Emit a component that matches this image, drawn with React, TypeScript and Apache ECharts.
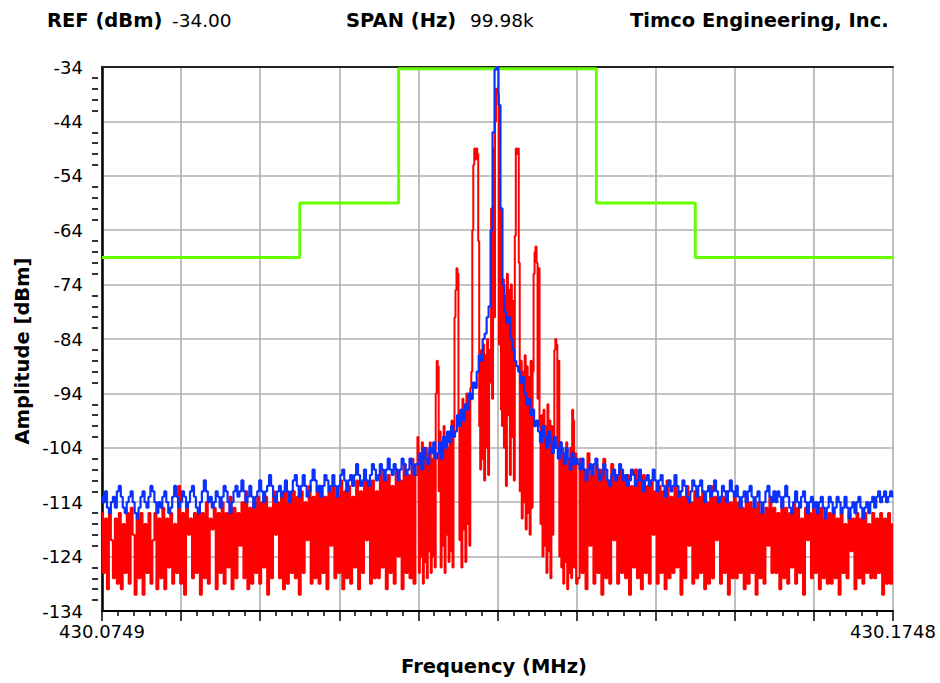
import React, { useEffect, useRef } from "react";
import * as echarts from "echarts";

// Reference level of the display (dBm) – the y axis is drawn relative to it
const REF_LEVEL = -34;

// Tick labels
const xTickLabels = ["430.0749", "", "", "", "", "", "", "", "", "", "430.1748"];
const yTickLabels = ["-134", "-124", "-114", "-104", "-94", "-84", "-74", "-64", "-54", "-44", "-34"];

// Limit mask (frequency offset from centre in kHz, level in dBm)
const maskFreq = [-50, -25, -25, -12.5, -12.5, 12.5, 12.5, 25, 25, 50];
const maskLevel = [-69, -69, -59, -59, -34.3, -34.3, -59, -59, -69, -69];

// Red trace (dBm) – left skirt, -50 … -10.25 kHz, 0.25 kHz steps
const redLeftStart = -50;
const redLeftStep = 0.25;
const redLeft = [
  -116, -127, -117, -130, -116, -121, -128, -117, -129, -116,
  -130, -118, -127, -116, -129, -115, -120, -131, -117, -128,
  -116, -131, -118, -127, -116, -129, -121, -116, -130, -117,
  -128, -115, -130, -117, -126, -116, -129, -118, -127, -111,
  -129, -116, -131, -115, -120, -117, -128, -116, -127, -115,
  -131, -116, -128, -114, -129, -117, -119, -115, -130, -116,
  -127, -114, -129, -116, -126, -113, -130, -115, -128, -116,
  -122, -114, -128, -112, -130, -115, -129, -114, -127, -113,
  -129, -114, -126, -113, -131, -115, -128, -112, -120, -114,
  -128, -113, -130, -111, -129, -114, -127, -112, -128, -113,
  -131, -112, -127, -114, -121, -111, -129, -113, -128, -112,
  -129, -111, -127, -113, -130, -112, -122, -111, -128, -113,
  -127, -110, -130, -112, -128, -111, -129, -113, -126, -110,
  -130, -112, -127, -109, -121, -111, -129, -110, -128, -112,
  -128, -108, -126, -110, -130, -109, -127, -111, -129, -108,
  -124, -110, -130, -107, -127, -109, -128, -106, -129, -109,
];

// Red trace – centre, -10 … +10 kHz, 0.125 kHz steps
const redCenterStart = -10;
const redCenterStep = 0.125;
const redCenter = [
  -102, -127, -105, -124, -103, -129, -106, -125, -104, -128,
  -105, -123, -103, -127, -106, -124, -104, -126,
  -94, -88, -89, -112,
  -101, -126, -103, -122, -100, -127, -102, -120, -104, -125, -101, -123, -99, -126, -102,
  -80, -75, -71, -72, -98,
  -121, -97, -126, -95, -119, -98, -125, -94, -118, -96, -122, -93,
  -90, -64, -52, -49, -51, -49, -50, -66, -100,
  -108, -86, -106, -85, -110, -87, -104, -84, -109, -86,
  -92, -60, -95, -49, -80, -44, -38, -38.5, -39, -85, -60, -97,
  -100, -73, -104, -76, -111, -72, -98, -75, -109, -74, -102, -77, -110,
  -65, -49, -50, -49, -70,
  -112, -88, -117, -90, -114, -87, -119, -89, -116, -91, -120, -88, -115,
  -90, -72, -68, -67, -70, -95, -71, -100, -118,
  -98, -124, -97, -122, -100, -127, -96, -123, -99, -128,
  -100, -120, -102, -86, -84, -85, -104, -88, -124, -103,
  -126, -104, -129, -105, -125, -103, -130, -106, -127, -104, -128, -97, -99, -126, -105, -129,
];

// Red trace – right skirt, +10.25 … +50 kHz, 0.25 kHz steps
const redRightStart = 10.25;
const redRightStep = 0.25;
const redRight = [
  -128, -106, -127, -108, -130, -105, -122, -109, -129, -107,
  -127, -108, -131, -106, -128, -110, -129, -107, -121, -109,
  -129, -108, -127, -110, -128, -109, -131, -111, -126, -108,
  -128, -110, -130, -109, -127, -111, -129, -110, -120, -112,
  -129, -111, -127, -112, -130, -110, -128, -113, -127, -111,
  -126, -112, -131, -113, -128, -111, -122, -114, -129, -112,
  -128, -113, -127, -112, -130, -114, -129, -111, -128, -113,
  -121, -114, -129, -113, -127, -112, -131, -114, -128, -113,
  -128, -114, -127, -115, -130, -113, -129, -114, -127, -115,
  -131, -114, -128, -116, -129, -115, -122, -113, -127, -115,
  -127, -116, -130, -114, -128, -115, -129, -116, -126, -114,
  -129, -115, -127, -117, -131, -115, -121, -116, -128, -115,
  -127, -116, -130, -115, -128, -117, -129, -116, -129, -116,
  -128, -117, -131, -116, -127, -118, -128, -116, -123, -117,
  -130, -116, -128, -117, -129, -116, -127, -118, -128, -116,
  -128, -117, -127, -116, -131, -117, -129, -116, -129, -118,
];

// Blue trace (dBm) – left, -50 … -10.25 kHz, 0.25 kHz steps
const blueLeftStart = -50;
const blueLeftStep = 0.25;
const blueLeft = [
  -113, -114, -112, -115, -116, -114, -113, -115, -112, -111,
  -113, -115, -116, -114, -113, -112, -114, -116, -117, -115,
  -113, -112, -114, -115, -113, -111, -112, -114, -116, -114,
  -115, -113, -112, -114, -116, -115, -113, -111, -113, -115,
  -114, -112, -113, -115, -114, -112, -111, -113, -115, -116,
  -114, -112, -110, -112, -114, -113, -115, -114, -112, -113,
  -115, -113, -111, -112, -114, -116, -114, -112, -111, -113,
  -112, -110, -112, -114, -113, -111, -113, -115, -113, -112,
  -110, -112, -114, -112, -111, -109, -111, -113, -114, -112,
  -111, -113, -112, -110, -112, -114, -112, -110, -109, -111,
  -113, -111, -109, -111, -113, -112, -110, -108, -110, -112,
  -111, -113, -111, -109, -110, -112, -111, -109, -111, -113,
  -111, -109, -108, -110, -112, -110, -109, -111, -109, -107,
  -109, -111, -110, -108, -110, -111, -109, -107, -108, -110,
  -109, -107, -108, -110, -108, -106, -108, -109, -107, -108,
  -110, -108, -106, -107, -109, -108, -106, -107, -109, -107,
];

// Blue trace – centre, -10 … +10 kHz, 0.25 kHz steps
const blueCenterStart = -10;
const blueCenterStep = 0.25;
const blueCenter = [
  -107, -105, -108, -104, -106, -107, -104, -105, -103, -106,
  -105, -103, -106, -102, -104, -101, -103, -100, -102, -101,
  -98, -100, -97, -99, -96, -97, -94, -95, -92, -93,
  -90, -87, -88, -84, -83, -80, -78, -64, -46, -34.5,
  -34, -41, -60, -74, -79, -81, -80, -84, -86, -88,
  -89, -90, -92, -91, -94, -96, -95, -98, -97, -100,
  -99, -101, -103, -100, -102, -104, -101, -103, -105, -102,
  -104, -106, -103, -105, -107, -104, -106, -108, -105, -107, -106,
];

// Blue trace – right, +10.25 … +50 kHz, 0.25 kHz steps
const blueRightStart = 10.25;
const blueRightStep = 0.25;
const blueRight = [
  -107, -108, -106, -108, -110, -108, -107, -109, -107, -106,
  -108, -110, -109, -107, -108, -110, -111, -109, -108, -110,
  -109, -107, -108, -110, -109, -111, -110, -108, -109, -111,
  -110, -108, -110, -112, -110, -109, -111, -110, -108, -110,
  -112, -110, -109, -111, -113, -111, -110, -112, -111, -109,
  -111, -113, -112, -110, -111, -113, -114, -112, -110, -111,
  -113, -111, -110, -112, -114, -112, -111, -113, -112, -110,
  -112, -114, -113, -111, -112, -114, -112, -110, -112, -113,
  -111, -113, -115, -113, -112, -114, -112, -111, -113, -115,
  -113, -112, -114, -116, -114, -112, -111, -113, -114, -112,
  -114, -112, -113, -115, -113, -111, -113, -115, -116, -114,
  -112, -114, -115, -113, -112, -114, -116, -114, -113, -115,
  -114, -116, -114, -113, -115, -117, -115, -113, -114, -116,
  -115, -113, -114, -116, -115, -113, -115, -117, -115, -114,
  -116, -114, -113, -115, -117, -115, -114, -116, -114, -113,
  -115, -113, -112, -114, -113, -112, -114, -113, -112, -113,
];

const toPoints = (start: number, step: number, values: number[]) =>
  values.map((v, i) => [start + step * i, v - REF_LEVEL]);

const FONT = '"DejaVu Sans", Verdana, sans-serif';

export default function App() {
  const ref = useRef<HTMLDivElement>(null);

  useEffect(() => {
    if (!ref.current) return;
    const chart = echarts.init(ref.current, null, { renderer: "svg" });

    const redData = [
      ...toPoints(redLeftStart, redLeftStep, redLeft),
      ...toPoints(redCenterStart, redCenterStep, redCenter),
      ...toPoints(redRightStart, redRightStep, redRight),
    ];
    const blueData = [
      ...toPoints(blueLeftStart, blueLeftStep, blueLeft),
      ...toPoints(blueCenterStart, blueCenterStep, blueCenter),
      ...toPoints(blueRightStart, blueRightStep, blueRight),
    ];
    const maskData = maskFreq.map((f, i) => [f, maskLevel[i] - REF_LEVEL]);

    const gridColor = "#b0b0b0";

    chart.setOption({
      animation: false,
      backgroundColor: "#ffffff",
      grid: { left: 102, right: 47, top: 67, bottom: 72, containLabel: false },
      xAxis: [
        {
          type: "value",
          position: "bottom",
          min: -50,
          max: 50,
          interval: 10,
          axisLine: { show: true, onZero: false, lineStyle: { color: "#000", width: 2 } },
          axisTick: { show: true, length: 10, lineStyle: { color: "#000", width: 1.5 } },
          minorTick: { show: true, splitNumber: 5, length: 5, lineStyle: { color: "#000", width: 1.5 } },
          splitLine: { show: true, lineStyle: { color: gridColor, width: 1.6 } },
          axisLabel: {
            show: true,
            margin: 11,
            fontFamily: FONT,
            fontSize: 18,
            color: "#000",
            showMinLabel: true,
            showMaxLabel: true,
            hideOverlap: false,
            formatter: (v: number) => xTickLabels[Math.round((v + 50) / 10)] ?? "",
          },
        },
        {
          type: "value",
          position: "top",
          min: -50,
          max: 50,
          interval: 10,
          axisLine: { show: true, onZero: false, lineStyle: { color: "#222", width: 2 } },
          axisTick: { show: false },
          axisLabel: { show: false },
          splitLine: { show: false },
        },
      ],
      yAxis: [
        {
          type: "value",
          position: "left",
          min: -100,
          max: 0,
          interval: 10,
          axisLine: { show: true, onZero: false, lineStyle: { color: "#000", width: 2.5 } },
          axisTick: { show: false },
          splitLine: { show: true, lineStyle: { color: gridColor, width: 1.6 } },
          axisLabel: {
            show: true,
            margin: 19,
            padding: [5, 0, 0, 0],
            fontFamily: FONT,
            fontSize: 18,
            color: "#000",
            formatter: (v: number) => yTickLabels[Math.round((v + 100) / 10)] ?? "",
          },
        },
        {
          type: "value",
          position: "left",
          offset: 4,
          min: -100,
          max: 0,
          interval: 10,
          axisLine: { show: false, onZero: false },
          axisTick: { show: false },
          minorTick: { show: true, splitNumber: 5, length: 6, lineStyle: { color: "#000", width: 1.6 } },
          splitLine: { show: false },
          axisLabel: { show: false },
        },
      ],
      series: [
        {
          name: "Mask",
          type: "line",
          data: maskData,
          symbol: "none",
          silent: true,
          lineStyle: { color: "#66ff00", width: 3 },
          z: 3,
        },
        {
          name: "Trace A",
          type: "line",
          step: "middle",
          data: redData,
          symbol: "none",
          silent: true,
          lineStyle: { color: "#ff0000", width: 2 },
          z: 4,
        },
        {
          name: "Trace B",
          type: "line",
          step: "middle",
          data: blueData,
          symbol: "none",
          silent: true,
          lineStyle: { color: "#0a32ff", width: 2.2 },
          z: 5,
        },
      ],
      graphic: [
        {
          type: "text",
          x: 47,
          y: 20,
          style: {
            text: "REF (dBm)",
            fontFamily: FONT,
            fontWeight: "bold",
            fontSize: 19.5,
            fill: "#000",
            align: "left",
            verticalAlign: "middle",
          },
        },
        {
          type: "text",
          x: 172,
          y: 20,
          style: {
            text: "-34.00",
            fontFamily: FONT,
            fontSize: 18.5,
            fill: "#000",
            align: "left",
            verticalAlign: "middle",
          },
        },
        {
          type: "text",
          x: 346,
          y: 20,
          style: {
            text: "SPAN (Hz)",
            fontFamily: FONT,
            fontWeight: "bold",
            fontSize: 19.5,
            fill: "#000",
            align: "left",
            verticalAlign: "middle",
          },
        },
        {
          type: "text",
          x: 470,
          y: 20,
          style: {
            text: "99.98k",
            fontFamily: FONT,
            fontSize: 18.5,
            fill: "#000",
            align: "left",
            verticalAlign: "middle",
          },
        },
        {
          type: "text",
          x: 630,
          y: 20,
          style: {
            text: "Timco Engineering, Inc.",
            fontFamily: FONT,
            fontWeight: "bold",
            fontSize: 19.5,
            fill: "#000",
            align: "left",
            verticalAlign: "middle",
          },
        },
        {
          type: "text",
          x: 22,
          y: 351,
          rotation: Math.PI / 2,
          style: {
            text: "Amplitude [dBm]",
            fontFamily: FONT,
            fontWeight: "bold",
            fontSize: 19.5,
            fill: "#000",
            align: "center",
            verticalAlign: "middle",
          },
        },
        {
          type: "text",
          x: 494,
          y: 666,
          style: {
            text: "Frequency (MHz)",
            fontFamily: FONT,
            fontWeight: "bold",
            fontSize: 19.5,
            fill: "#000",
            align: "center",
            verticalAlign: "middle",
          },
        },
      ],
    });

    return () => chart.dispose();
  }, []);

  return (
    <div
      ref={ref}
      style={{ position: "fixed", left: 0, top: 0, width: 940, height: 683, background: "#fff" }}
    />
  );
}
